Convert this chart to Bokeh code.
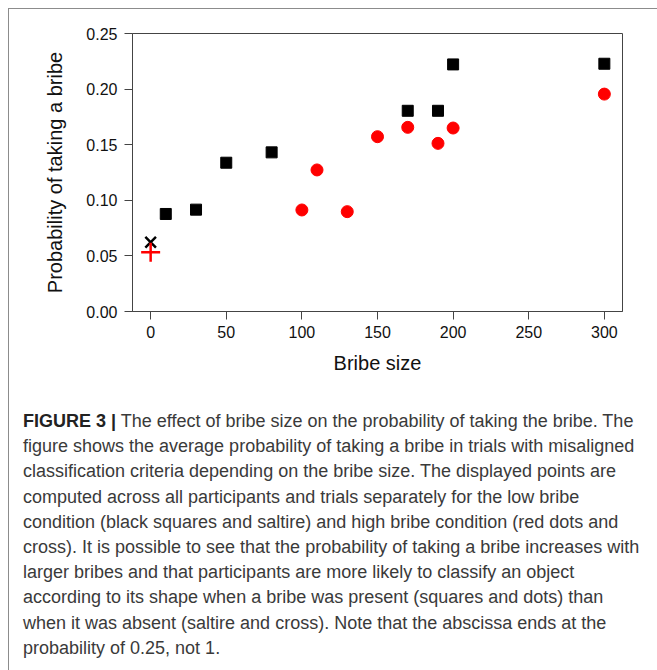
from bokeh.plotting import figure
from bokeh.models import Range1d, FixedTicker, NumeralTickFormatter, Div
from bokeh.layouts import column
from bokeh.embed import file_html
from bokeh.resources import INLINE

# ---- data ----
low_x = [10, 30, 50, 80, 170, 190, 200, 300]
low_y = [0.0877, 0.0916, 0.1338, 0.1431, 0.1805, 0.1805, 0.2222, 0.2228]
high_x = [100, 110, 130, 150, 170, 190, 200, 300]
high_y = [0.0913, 0.1273, 0.0898, 0.1572, 0.1656, 0.1512, 0.1650, 0.1955]
absent_low_x = [0]
absent_low_y = [0.0623]
absent_high_x = [0]
absent_high_y = [0.0533]
x_ticks = [0, 50, 100, 150, 200, 250, 300]
y_ticks = [0.00, 0.05, 0.10, 0.15, 0.20, 0.25]
x_title = "Bribe size"
y_title = "Probability of taking a bribe"
caption_bold = "FIGURE 3 |"
caption_lines = [
    "The effect of bribe size on the probability of taking the bribe. The",
    "figure shows the average probability of taking a bribe in trials with misaligned",
    "classification criteria depending on the bribe size. The displayed points are",
    "computed across all participants and trials separately for the low bribe",
    "condition (black squares and saltire) and high bribe condition (red dots and",
    "cross). It is possible to see that the probability of taking a bribe increases with",
    "larger bribes and that participants are more likely to classify an object",
    "according to its shape when a bribe was present (squares and dots) than",
    "when it was absent (saltire and cross). Note that the abscissa ends at the",
    "probability of 0.25, not 1.",
]

FONT = "Liberation Sans"
FIG_W, FIG_H = 648, 382
DIV_H = 270

p = figure(width=FIG_W, height=FIG_H, output_backend="svg", toolbar_location=None,
           x_range=Range1d(-12, 312), y_range=Range1d(0, 0.25),
           min_border_left=123, min_border_right=35, min_border_top=24, min_border_bottom=80)
p.grid.visible = False
p.outline_line_color = "#444444"
p.background_fill_color = "white"
p.border_fill_color = "white"

for ax in (p.xaxis[0], p.yaxis[0]):
    ax.axis_line_color = "#444444"
    ax.major_tick_line_color = "#444444"
    ax.minor_tick_line_color = None
    ax.major_tick_in = 0
    ax.major_tick_out = 8
    ax.major_label_text_font = FONT
    ax.major_label_text_font_size = "16px"
    ax.major_label_text_color = "#111111"
    ax.axis_label_text_font = FONT
    ax.axis_label_text_font_size = "20px"
    ax.axis_label_text_font_style = "normal"
    ax.axis_label_text_color = "#111111"

p.xaxis.ticker = FixedTicker(ticks=x_ticks)
p.yaxis.ticker = FixedTicker(ticks=y_ticks)
p.yaxis.formatter = NumeralTickFormatter(format="0.00")
p.xaxis.axis_label = x_title
p.yaxis.axis_label = y_title
p.xaxis.major_label_standoff = 6
p.yaxis.major_label_standoff = 7
p.xaxis.axis_label_standoff = 11
p.yaxis.axis_label_standoff = 17

p.scatter(low_x, low_y, marker="square", size=11, fill_color="black", line_color="black")
p.scatter(high_x, high_y, marker="circle", size=12, fill_color="#ff0000", line_color="#ff0000")
p.scatter(absent_low_x, absent_low_y, marker="x", size=15, line_color="black", line_width=2.5)
p.scatter(absent_high_x, absent_high_y, marker="cross", size=19, line_color="#ff0000", line_width=2.5)

# caption
body = "<br>".join(caption_lines)
html = (
    f'<div style="font-family:\'{FONT}\';font-size:18px;line-height:25.2px;color:#3a3a3a;'
    f'white-space:nowrap;padding:13px 0 0 9px;">'
    f'<b style="color:#222222;font-size:18px;">{caption_bold}</b> {body}</div>'
)
cap = Div(text=html, width=FIG_W, height=DIV_H)

layout = column(p, cap, spacing=0, margin=(8, 0, 0, 8),
                styles={"border-left": "1px solid #8c8c8c", "border-top": "1px solid #8c8c8c"})

open("out.html", "w").write(file_html(layout, INLINE))
